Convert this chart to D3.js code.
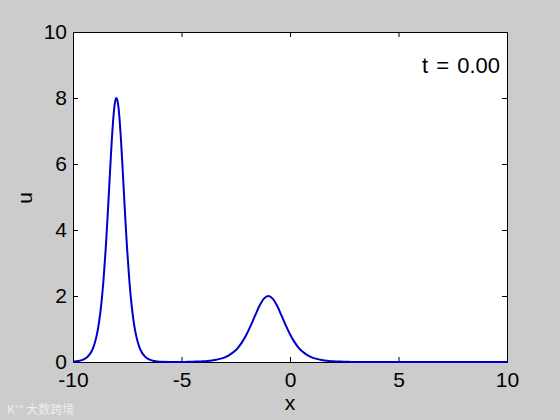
<!DOCTYPE html>
<html>
<head>
<meta charset="utf-8">
<script src="https://cdn.jsdelivr.net/npm/d3@7"></script>
<style>
body{margin:0;background:#cccccc;}
svg text{font-family:"Liberation Sans",Arial,sans-serif;}
</style>
</head>
<body>
<svg id="chart" width="560" height="420"></svg>
<script>
// values (two pulses, peaks near x=-8 and x=-1)
var xs = [-10,-9.75,-9.5,-9.4,-9.3,-9.2,-9.1,-9,-8.9,-8.8,-8.7,-8.6,-8.5,-8.45,-8.4,-8.35,-8.3,-8.25,-8.2,-8.15,-8.1,-8.05,-8,
	-7.95,-7.9,-7.85,-7.8,-7.75,-7.7,-7.65,-7.6,-7.55,-7.5,-7.4,-7.3,-7.2,-7.1,-7,-6.9,-6.8,-6.7,-6.6,-6.5,-6.25,-6,
	-5,-4.5,-4,-3.8,-3.4,-3,-2.8,-2.6,-2.4,-2.2,-2,-1.8,-1.6,-1.4,-1.2,-1,
	-0.8,-0.6,-0.4,-0.2,0,0.2,0.4,0.6,0.8,1,1.4,1.8,2,2.5,3,10];
var us = [0.01,0.03,0.08,0.12,0.18,0.26,0.38,0.57,0.83,1.20,1.73,2.44,3.36,3.90,4.47,5.08,5.69,6.29,6.85,7.32,7.69,7.92,8.00,
	7.92,7.69,7.32,6.85,6.29,5.69,5.08,4.47,3.90,3.36,2.44,1.73,1.20,0.83,0.57,0.38,0.26,0.18,0.12,0.08,0.03,0.01,
	0.00,0.01,0.02,0.03,0.07,0.14,0.21,0.30,0.43,0.61,0.84,1.12,1.42,1.71,1.92,2.00,
	1.92,1.71,1.42,1.12,0.84,0.61,0.43,0.30,0.21,0.14,0.07,0.03,0.02,0.01,0.00,0.00];
var xTicks = [-10,-5,0,5,10];
var yTicks = [0,2,4,6,8,10];
var timeLabel = 't = 0.00';

var margin = {left:73, top:32}, w = 434, h = 330;
var svg = d3.select('#chart');

var x = d3.scaleLinear().domain([-10,10]).range([0,w]);
var y = d3.scaleLinear().domain([0,10]).range([h,0]);
var fmt = function(d){return String(d)}; //plain hyphen like the original

var g = svg.append('g').attr('transform','translate('+margin.left+','+margin.top+')');

g.append('rect')
	.attr('width',w).attr('height',h)
	.attr('fill','white');

//ticks point inwards, mirrored on top and right
function styleAxis(sel){
	sel.select('.domain').remove();
	sel.selectAll('line').attr('stroke','black');
	sel.selectAll('text').attr('fill','black').style('font-size','21px');
}
g.append('g').attr('transform','translate(0,'+h+')')
	.call(d3.axisBottom(x).tickValues(xTicks).tickSizeInner(-5).tickSizeOuter(0).tickPadding(10).tickFormat(fmt))
	.call(styleAxis);
g.append('g')
	.call(d3.axisTop(x).tickValues(xTicks).tickSizeInner(-5).tickSizeOuter(0).tickFormat(''))
	.call(styleAxis);
g.append('g')
	.call(d3.axisLeft(y).tickValues(yTicks).tickSizeInner(-5).tickSizeOuter(0).tickPadding(6).tickFormat(fmt))
	.call(styleAxis);
g.append('g').attr('transform','translate('+w+',0)')
	.call(d3.axisRight(y).tickValues(yTicks).tickSizeInner(-5).tickSizeOuter(0).tickFormat(''))
	.call(styleAxis);

g.append('rect')
	.attr('x',0.5).attr('y',0.5)
	.attr('width',w).attr('height',h)
	.attr('fill','none').attr('stroke','black').attr('stroke-width',1);

var line = d3.line()
	.x(function(d,i){return x(xs[i])})
	.y(function(d){return y(d)})
	.curve(d3.curveMonotoneX);

g.append('path')
	.datum(us)
	.attr('d',line)
	.attr('fill','none')
	.attr('stroke','#0000cc')
	.attr('stroke-width',2);

g.append('text')
	.attr('x',w-7).attr('y',41)
	.attr('text-anchor','end')
	.style('font-size','22px')
	.style('word-spacing','2px')
	.text(timeLabel);

svg.append('text')
	.attr('x',margin.left+w/2).attr('y',410)
	.attr('text-anchor','middle')
	.style('font-size','21px')
	.text('x');

svg.append('text')
	.attr('transform','translate(32,198) rotate(-90)')
	.attr('text-anchor','middle')
	.style('font-size','21px')
	.text('u');

//faint watermark, bottom left
svg.append('text')
	.attr('x',7).attr('y',414)
	.style('font-size','12px')
	.style('font-family','"Noto Sans CJK SC",sans-serif')
	.attr('fill','#eeeeee')
	.text('K\u00b0\u00b0 大数跨境');
</script>
</body>
</html>
